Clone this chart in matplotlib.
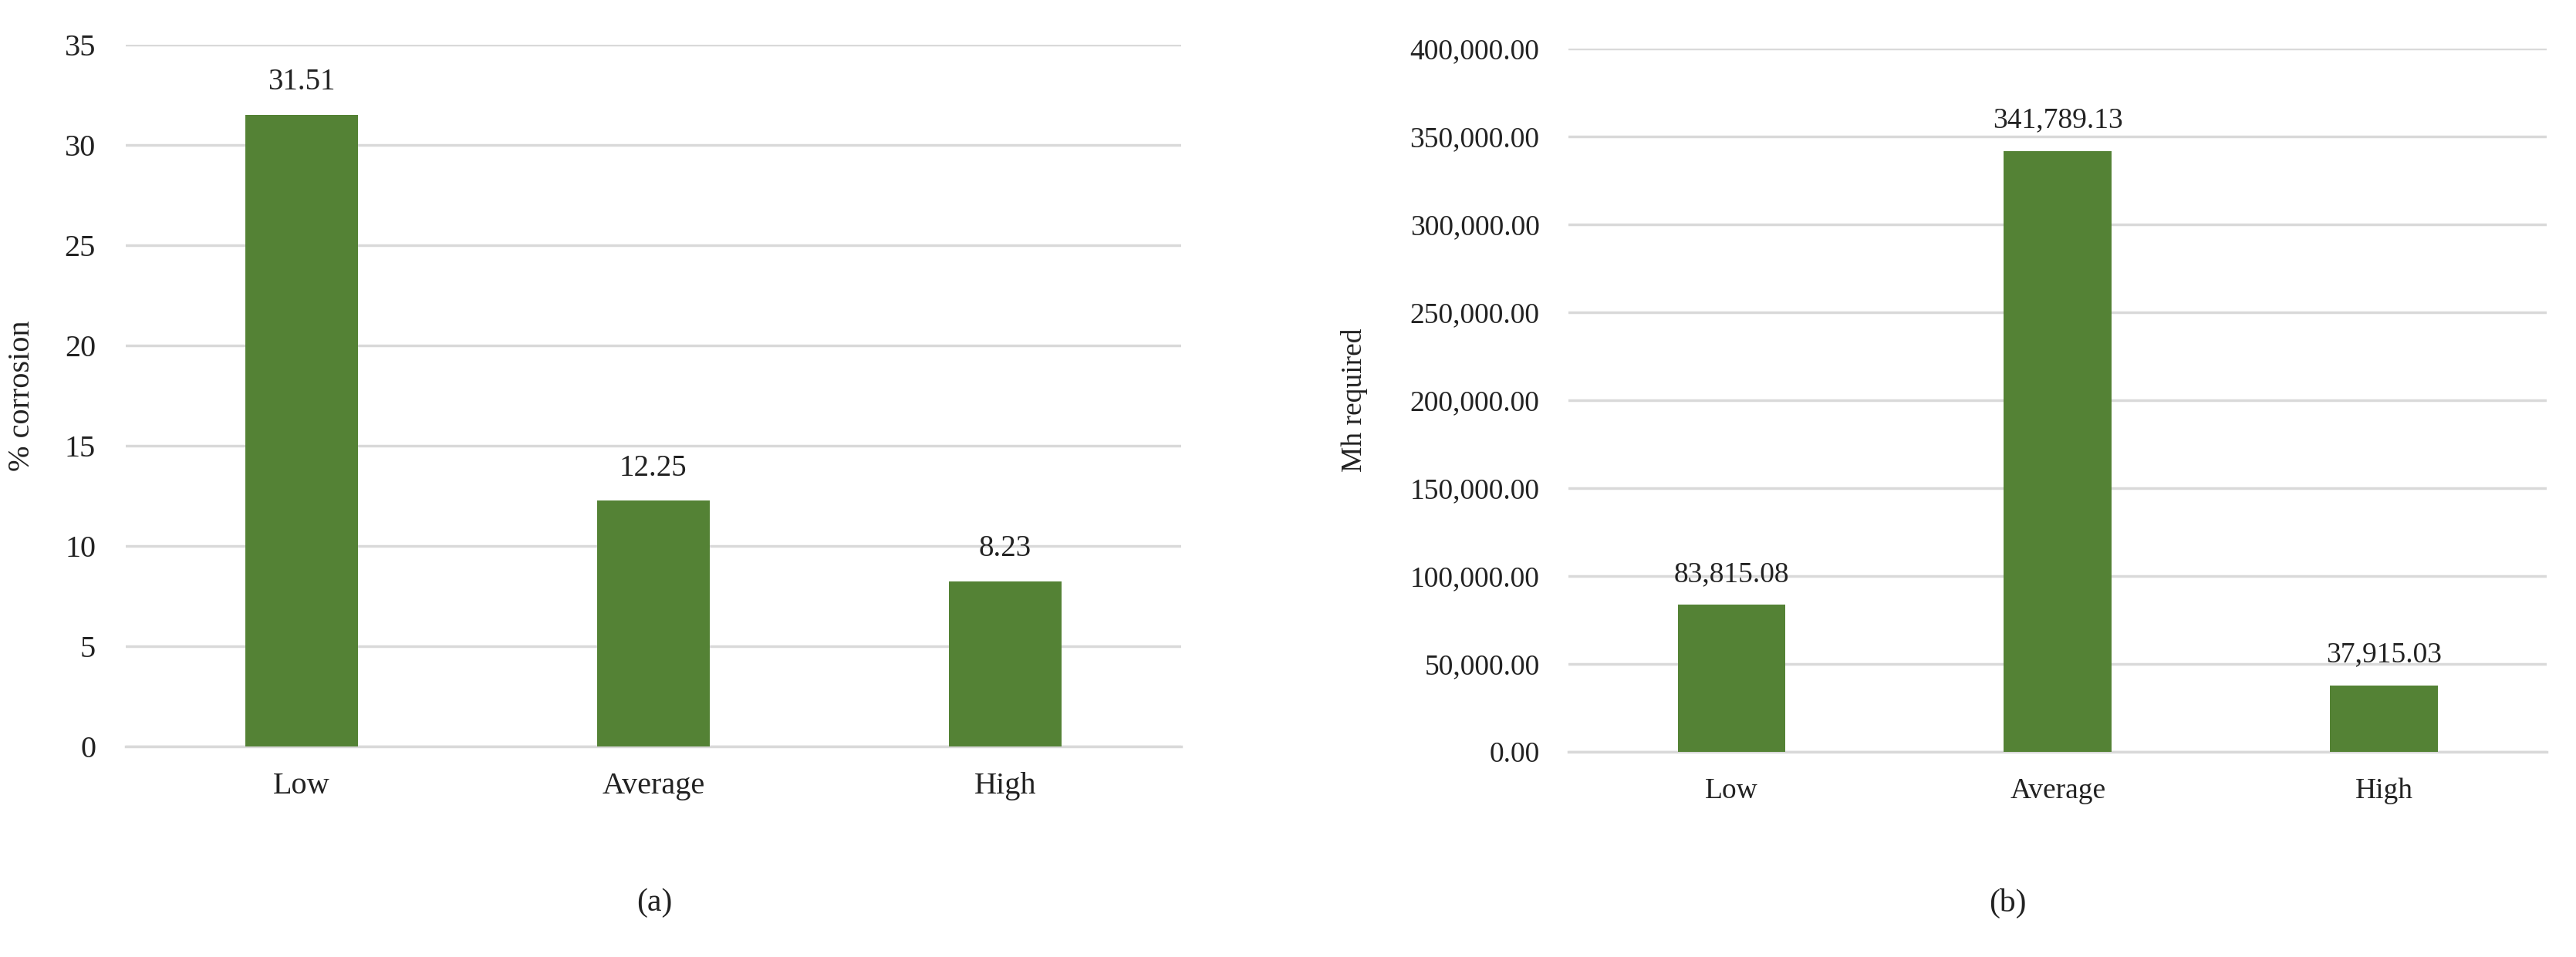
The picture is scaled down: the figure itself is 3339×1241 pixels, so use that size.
import matplotlib
matplotlib.use("Agg")
import matplotlib.pyplot as plt
from matplotlib.ticker import FuncFormatter, MultipleLocator

categories = ["Low", "Average", "High"]
corrosion = [31.51, 12.25, 8.23]
mh_required = [83815.08, 341789.13, 37915.03]
corrosion_labels = ["31.51", "12.25", "8.23"]
mh_labels = ["83,815.08", "341,789.13", "37,915.03"]

plt.rcParams['font.family'] = ['Liberation Serif', 'DejaVu Serif']

BAR = '#548235'
GRID = '#D9D9D9'

fig = plt.figure(figsize=(33.39, 12.41), dpi=100)
ax1 = fig.add_axes([0.0488, 0.22, 0.4097, 0.7333])
ax2 = fig.add_axes([0.6089, 0.2143, 0.3798, 0.7349])


def style(ax, fs, pad):
    for s in ['top', 'right', 'left']:
        ax.spines[s].set_visible(False)
    ax.spines['bottom'].set_color(GRID)
    ax.spines['bottom'].set_linewidth(2.5)
    ax.yaxis.grid(True, color=GRID, linewidth=2.5)
    ax.set_axisbelow(True)
    ax.tick_params(axis='both', length=0, labelsize=fs, colors='#222222')
    ax.tick_params(axis='y', pad=pad)
    ax.tick_params(axis='x', pad=24)


x = range(len(categories))
ax1.bar(x, corrosion, width=0.32, color=BAR, zorder=3)
ax1.set_xlim(-0.5, 2.5)
ax1.set_ylim(0, 35)
ax1.yaxis.set_major_locator(MultipleLocator(5))
ax1.set_xticks(list(x))
ax1.set_xticklabels(categories)
style(ax1, 29, 28)
ax1.set_ylabel("% corrosion", fontsize=29, color='#222222')
ax1.yaxis.set_label_coords(-0.085, 0.5)
for xi, v, t in zip(x, corrosion, corrosion_labels):
    ax1.annotate(t, (xi, v), xytext=(0, 17), textcoords='offset points',
                 ha='center', va='bottom', fontsize=28, color='#222222')

ax2.bar(x, mh_required, width=0.33, color=BAR, zorder=3)
ax2.set_xlim(-0.5, 2.5)
ax2.set_ylim(0, 400000)
ax2.yaxis.set_major_locator(MultipleLocator(50000))
ax2.yaxis.set_major_formatter(FuncFormatter(lambda v, p: f"{v:,.2f}"))
ax2.set_xticks(list(x))
ax2.set_xticklabels(categories)
style(ax2, 27, 27)
ax2.set_ylabel("Mh required", fontsize=27, color='#222222')
ax2.yaxis.set_label_coords(-0.205, 0.5)
for xi, v, t in zip(x, mh_required, mh_labels):
    ax2.annotate(t, (xi, v), xytext=(0, 16), textcoords='offset points',
                 ha='center', va='bottom', fontsize=27, color='#222222')

fig.text(848 / 3339, 1 - 1171 / 1241, "(a)", ha='center', va='center', fontsize=30, color='#222222')
fig.text(2602 / 3339, 1 - 1171 / 1241, "(b)", ha='center', va='center', fontsize=30, color='#222222')

fig.savefig("out.png", dpi=100, facecolor='white')
